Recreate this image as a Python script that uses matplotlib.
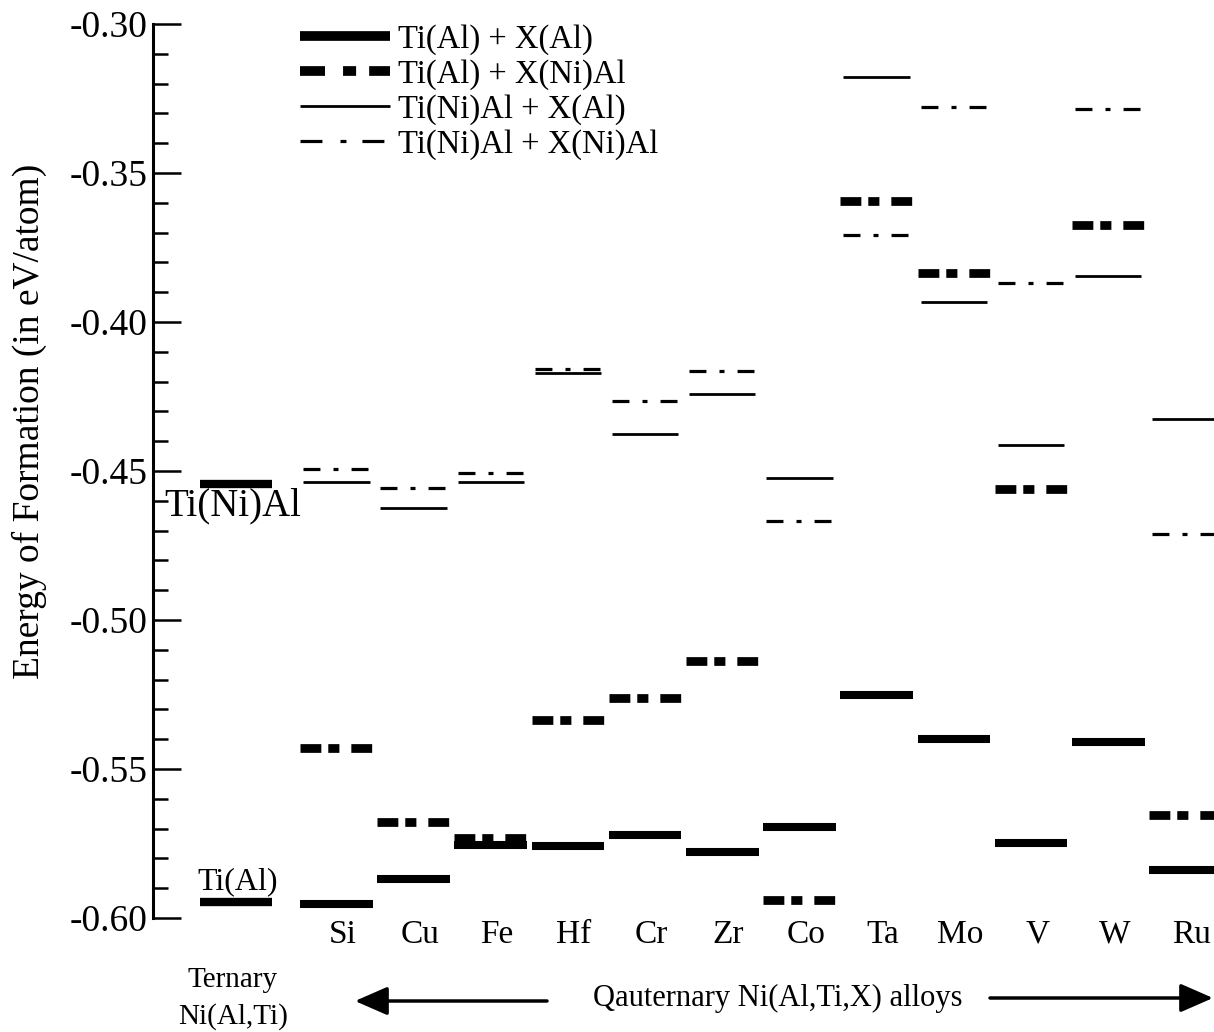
import numpy as np
import matplotlib
matplotlib.use('Agg')
import matplotlib.pyplot as plt
from matplotlib.lines import Line2D
from matplotlib.ticker import MultipleLocator, FuncFormatter

plt.rcParams['font.family'] = ['Liberation Serif', 'DejaVu Serif']
plt.rcParams['axes.unicode_minus'] = False
plt.rcParams['lines.scale_dashes'] = False

# quaternary additions (X) and energies of formation in eV/atom
elements = ['Si', 'Cu', 'Fe', 'Hf', 'Cr', 'Zr', 'Co', 'Ta', 'Mo', 'V', 'W', 'Ru']
ti_al_x_al = [-0.5953, -0.5869, -0.5755, -0.5760, -0.5722, -0.5779,
              -0.5695, -0.5253, -0.5400, -0.5747, -0.5408, -0.5840]
ti_al_x_nial = [-0.5428, -0.5678, -0.5733, -0.5337, -0.5263, -0.5136,
                -0.5939, -0.3593, -0.3837, -0.4560, -0.3676, -0.5655]
ti_nial_x_al = [-0.4537, -0.4624, -0.4537, -0.4172, -0.4376, -0.4242,
                -0.4523, -0.3177, -0.3934, -0.4413, -0.3847, -0.4326]
ti_nial_x_nial = [-0.4493, -0.4557, -0.4507, -0.4158, -0.4265, -0.4165,
                  -0.4667, -0.3707, -0.3278, -0.3870, -0.3285, -0.4711]
# ternary Ni(Al,Ti)
ternary_ti_al = -0.5945
ternary_ti_nial = -0.4545

series_labels = ['Ti(Al) + X(Al)', 'Ti(Al) + X(Ni)Al',
                 'Ti(Ni)Al + X(Al)', 'Ti(Ni)Al + X(Ni)Al']

fig = plt.figure(figsize=(12.14, 10.32), dpi=100)
ax = fig.add_axes([153/1214, 1-918/1032, 1-153/1214, (918-24)/1032])

xpos = 1.3 + np.arange(len(elements))

# styles: (linewidth, dashes or None, half width)
styles = [(5.8, None, 0.47),
          (6.3, (0, (15, 5, 8, 8.6)), 0.47),
          (2.0, None, 0.43),
          (2.3, (0, (12.2, 9.4, 3.6, 9.4)), 0.43)]
series = [ti_al_x_al, ti_al_x_nial, ti_nial_x_al, ti_nial_x_nial]

for vals, (lw, ls, hw) in zip(series, styles):
    for x, v in zip(xpos, vals):
        ax.plot([x - hw, x + hw], [v, v], color='black', lw=lw,
                ls=ls if ls else '-', solid_capstyle='butt',
                dash_capstyle='butt')

# ternary reference levels
for v in [ternary_ti_al, ternary_ti_nial]:
    ax.plot([-0.47, 0.47], [v, v], color='black', lw=6.0, solid_capstyle='butt')
ax.text(-0.93, -0.4617, 'Ti(Ni)Al', fontsize=28, va='center', ha='left')
ax.text(-0.505, -0.5879, 'Ti(Al)', fontsize=23, va='center', ha='left')

ax.set_xlim(-1.075, 12.67)
ax.set_ylim(-0.60, -0.30)
ax.yaxis.set_major_locator(MultipleLocator(0.05))
ax.yaxis.set_minor_locator(MultipleLocator(0.01))
ax.yaxis.set_major_formatter(FuncFormatter(lambda v, p: '%.2f' % v))
ax.tick_params(axis='y', which='major', direction='in', length=20, width=1.8,
               labelsize=27, pad=4)
ax.tick_params(axis='y', which='minor', direction='in', length=11, width=1.8)
ax.set_xticks(xpos + 0.08, elements)
ax.tick_params(axis='x', length=0, labelsize=24, pad=1)
for s in ['top', 'right', 'bottom']:
    ax.spines[s].set_visible(False)
ax.spines['left'].set_linewidth(2.2)

ax.set_ylabel('Energy of Formation (in eV/atom)', fontsize=27)
ax.yaxis.set_label_coords(-0.1, 0.556)

# legend with its own dash scale
handles = [Line2D([], [], color='black', lw=7, solid_capstyle='butt'),
           Line2D([], [], color='black', lw=7, ls=(0, (18, 13, 9.4, 9.4)),
                  dash_capstyle='butt'),
           Line2D([], [], color='black', lw=2.0, solid_capstyle='butt'),
           Line2D([], [], color='black', lw=2.3, ls=(0, (15.8, 13, 4.3, 11.5)),
                  dash_capstyle='butt')]
fig.legend(handles, series_labels, loc='upper left',
           bbox_to_anchor=(300/1214, 1-24/1032), frameon=False, fontsize=23.5,
           handlelength=2.75, handletextpad=0.25, labelspacing=0.13,
           borderpad=0, borderaxespad=0)

# bottom annotations
fig.text(233/1214, 1-980/1032, 'Ternary', fontsize=21, ha='center', va='center')
fig.text(233/1214, 1-1017/1032, 'Ni(Al,Ti)', fontsize=21, ha='center', va='center')
fig.text(778/1214, 1-998/1032, 'Qauternary Ni(Al,Ti,X) alloys', fontsize=22,
         ha='center', va='center')
arrow = dict(arrowstyle='-|>,head_length=0.8,head_width=0.35', lw=2.5,
             color='black', mutation_scale=25, shrinkA=0, shrinkB=0)
ax.annotate('', xy=(355/1214, 1-1001/1032), xytext=(547/1214, 1-1001/1032),
            xycoords='figure fraction', textcoords='figure fraction',
            arrowprops=arrow)
ax.annotate('', xy=(1213/1214, 1-998/1032), xytext=(990/1214, 1-998/1032),
            xycoords='figure fraction', textcoords='figure fraction',
            arrowprops=arrow)

fig.savefig('out.png', dpi=100)
